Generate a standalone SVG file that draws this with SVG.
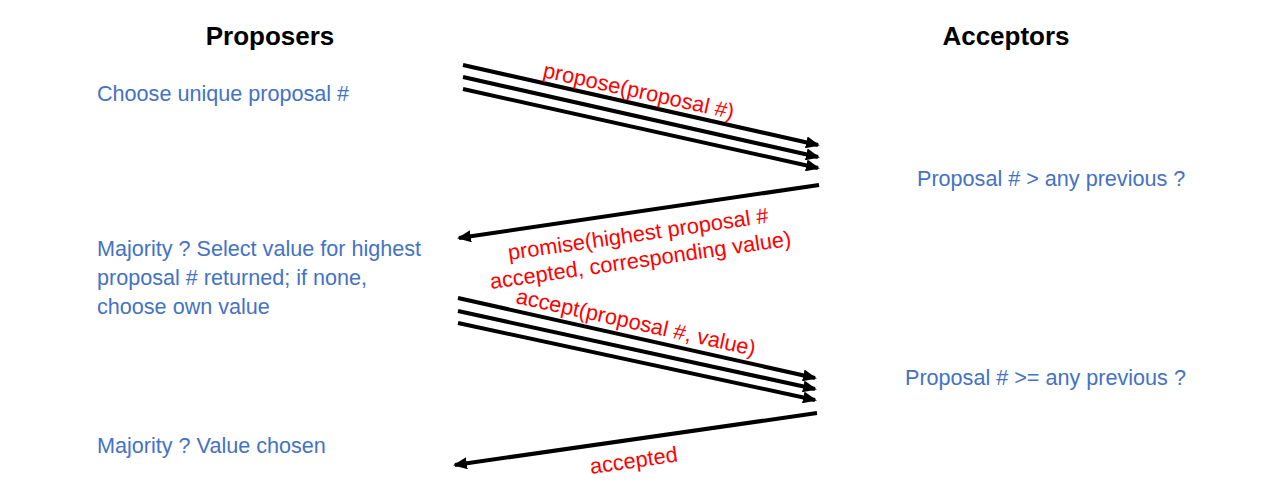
<svg xmlns="http://www.w3.org/2000/svg" width="1280" height="503" viewBox="0 0 1280 503">
<defs>
<style>
.h{font-family:"Liberation Sans",Arial,sans-serif;font-weight:bold;font-size:26px;fill:#000;text-anchor:middle}
.b{font-family:"Liberation Sans",Arial,sans-serif;font-size:21.6px;fill:#4472C4}
.r{font-family:"Liberation Sans",Arial,sans-serif;font-size:21.8px;fill:#FF0000}
.ln{stroke:#000;stroke-width:4;fill:none;marker-end:url(#ah)}
</style>
<marker id="ah" viewBox="0 0 14 12" refX="12" refY="6" markerWidth="14" markerHeight="12" markerUnits="userSpaceOnUse" orient="auto">
<path d="M0,0 L14,6 L0,12 z" fill="#000"/>
</marker>
</defs>
<rect width="1280" height="503" fill="#fff"/>
<g id="proposers"><text class="h" x="270" y="45">Proposers</text></g>
<g id="acceptors"><text class="h" x="1006" y="45">Acceptors</text></g>
<g id="choose"><text class="b" x="97" y="101">Choose unique proposal #</text></g>
<g id="majority1"><text class="b" x="97" y="256">Majority ? Select value for highest</text><text class="b" x="97" y="285">proposal # returned; if none,</text><text class="b" x="97" y="314">choose own value</text></g>
<g id="majority2"><text class="b" x="97" y="453">Majority ? Value chosen</text></g>
<g id="check1"><text class="b" x="917" y="186">Proposal # &gt; any previous ?</text></g>
<g id="check2"><text class="b" x="905" y="385">Proposal # &gt;= any previous ?</text></g>
<g id="connectors">
<line class="ln" x1="463" y1="65" x2="818" y2="145"/>
<line class="ln" x1="463" y1="77" x2="818" y2="157"/>
<line class="ln" x1="463" y1="89" x2="818" y2="168"/>
<line class="ln" x1="819" y1="185" x2="459" y2="238"/>
<line class="ln" x1="458" y1="298" x2="815" y2="378"/>
<line class="ln" x1="458" y1="311" x2="815" y2="389"/>
<line class="ln" x1="458" y1="323" x2="815" y2="400"/>
<line class="ln" x1="817" y1="413" x2="455" y2="465"/>
<text class="r" transform="translate(542,77) rotate(12.5)">propose(proposal #)</text>
<text class="r" transform="translate(509,260) rotate(-8.2)">promise(highest proposal #</text>
<text class="r" transform="translate(491,289) rotate(-8.2)">accepted, corresponding value)</text>
<text class="r" transform="translate(515,303) rotate(12.5)">accept(proposal #, value)</text>
<text class="r" transform="translate(591,474) rotate(-8.2)">accepted</text>
</g>
</svg>
